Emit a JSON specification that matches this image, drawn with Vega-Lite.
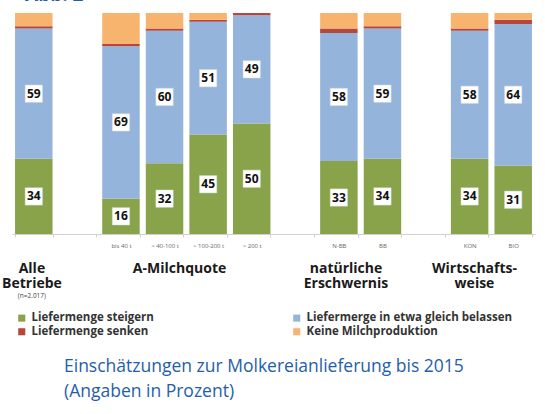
{
  "$schema": "https://vega.github.io/schema/vega-lite/v6.json",
  "width": 523,
  "height": 221,
  "autosize": {"type": "none"},
  "padding": {"left": 12, "top": 13, "right": 10, "bottom": 180},
  "background": "white",
  "config": {"view": {"stroke": null}, "font": "Open Sans"},
  "datasets": {
    "bars": [
      {"cat": "Alle", "series": "Liefermenge steigern", "o": 1, "value": 34},
      {"cat": "Alle", "series": "Liefermerge in etwa gleich belassen", "o": 2, "value": 59},
      {"cat": "Alle", "series": "Liefermenge senken", "o": 3, "value": 1},
      {"cat": "Alle", "series": "Keine Milchproduktion", "o": 4, "value": 6},
      {"cat": "bis 40 t", "series": "Liefermenge steigern", "o": 1, "value": 16},
      {"cat": "bis 40 t", "series": "Liefermerge in etwa gleich belassen", "o": 2, "value": 69},
      {"cat": "bis 40 t", "series": "Liefermenge senken", "o": 3, "value": 1},
      {"cat": "bis 40 t", "series": "Keine Milchproduktion", "o": 4, "value": 14},
      {"cat": "> 40-100 t", "series": "Liefermenge steigern", "o": 1, "value": 32},
      {"cat": "> 40-100 t", "series": "Liefermerge in etwa gleich belassen", "o": 2, "value": 60},
      {"cat": "> 40-100 t", "series": "Liefermenge senken", "o": 3, "value": 1},
      {"cat": "> 40-100 t", "series": "Keine Milchproduktion", "o": 4, "value": 7},
      {"cat": "> 100-200 t", "series": "Liefermenge steigern", "o": 1, "value": 45},
      {"cat": "> 100-200 t", "series": "Liefermerge in etwa gleich belassen", "o": 2, "value": 51},
      {"cat": "> 100-200 t", "series": "Liefermenge senken", "o": 3, "value": 1},
      {"cat": "> 100-200 t", "series": "Keine Milchproduktion", "o": 4, "value": 3},
      {"cat": "> 200 t", "series": "Liefermenge steigern", "o": 1, "value": 50},
      {"cat": "> 200 t", "series": "Liefermerge in etwa gleich belassen", "o": 2, "value": 49},
      {"cat": "> 200 t", "series": "Liefermenge senken", "o": 3, "value": 1},
      {"cat": "> 200 t", "series": "Keine Milchproduktion", "o": 4, "value": 0},
      {"cat": "N-BB", "series": "Liefermenge steigern", "o": 1, "value": 33},
      {"cat": "N-BB", "series": "Liefermerge in etwa gleich belassen", "o": 2, "value": 58},
      {"cat": "N-BB", "series": "Liefermenge senken", "o": 3, "value": 2},
      {"cat": "N-BB", "series": "Keine Milchproduktion", "o": 4, "value": 7},
      {"cat": "BB", "series": "Liefermenge steigern", "o": 1, "value": 34},
      {"cat": "BB", "series": "Liefermerge in etwa gleich belassen", "o": 2, "value": 59},
      {"cat": "BB", "series": "Liefermenge senken", "o": 3, "value": 1},
      {"cat": "BB", "series": "Keine Milchproduktion", "o": 4, "value": 6},
      {"cat": "KON", "series": "Liefermenge steigern", "o": 1, "value": 34},
      {"cat": "KON", "series": "Liefermerge in etwa gleich belassen", "o": 2, "value": 58},
      {"cat": "KON", "series": "Liefermenge senken", "o": 3, "value": 1},
      {"cat": "KON", "series": "Keine Milchproduktion", "o": 4, "value": 7},
      {"cat": "BIO", "series": "Liefermenge steigern", "o": 1, "value": 31},
      {"cat": "BIO", "series": "Liefermerge in etwa gleich belassen", "o": 2, "value": 64},
      {"cat": "BIO", "series": "Liefermenge senken", "o": 3, "value": 2},
      {"cat": "BIO", "series": "Keine Milchproduktion", "o": 4, "value": 3}
    ],
    "groups": [
      {"g": "alle", "cat": "Alle", "label": "Alle\nBetriebe"},
      {"g": "n", "cat": "Alle", "label": "(n=2.017)"},
      {"g": "milch", "cat": "> 40-100 t", "label": "A-Milchquote"},
      {"g": "natur", "cat": "N-BB", "label": "natürliche\nErschwernis"},
      {"g": "wirt", "cat": "KON", "label": "Wirtschafts-\nweise"},
      {"g": "abb", "cat": "Alle", "label": "Abb. 2"}
    ]
  },
  "title": {
    "text": ["Einschätzungen zur Molkereianlieferung bis 2015", "(Angaben in Prozent)"],
    "orient": "bottom",
    "anchor": "start",
    "frame": "group",
    "dx": 52,
    "offset": 20,
    "fontSize": 17.5,
    "font": "Open Sans",
    "fontWeight": "normal",
    "color": "#1f5ea8",
    "lineHeight": 25
  },
  "layer": [
    {
      "data": {"name": "bars"},
      "transform": [
        {"stack": "value", "groupby": ["cat"], "sort": [{"field": "o", "order": "ascending"}], "as": ["v0", "v1"]}
      ],
      "mark": {"type": "bar"},
      "encoding": {
        "x": {
          "field": "cat",
          "type": "nominal",
          "sort": null,
          "scale": {
            "domain": ["Alle", " ", "bis 40 t", "> 40-100 t", "> 100-200 t", "> 200 t", "  ", "N-BB", "BB", "   ", "KON", "BIO"],
            "paddingInner": 0.14,
            "paddingOuter": 0.07
          },
          "axis": {
            "title": null,
            "labelExpr": "datum.value == 'Alle' ? '' : datum.value",
            "labelFontSize": 6,
            "labelColor": "#666666",
            "labelAngle": 0,
            "labelPadding": 5,
            "tickBand": "extent",
            "tickSize": 3,
            "tickColor": "#d0d0d0",
            "domainColor": "#d0d0d0"
          }
        },
        "y": {"field": "v0", "type": "quantitative", "scale": {"domain": [0, 100], "nice": false}, "axis": null},
        "y2": {"field": "v1"},
        "color": {
          "field": "series",
          "type": "nominal",
          "scale": {
            "domain": ["Liefermenge steigern", "Liefermerge in etwa gleich belassen", "Liefermenge senken", "Keine Milchproduktion"],
            "range": ["#88a34a", "#94b4dc", "#b5473f", "#f7b46f"]
          },
          "legend": {
            "orient": "none",
            "direction": "horizontal",
            "legendX": 4,
            "legendY": 299,
            "columns": 2,
            "title": null,
            "symbolType": "square",
            "symbolSize": 50,
            "symbolStrokeWidth": 0,
            "labelFont": "Open Sans",
            "labelFontWeight": "bold",
            "labelFontSize": 11.5,
            "labelColor": "#333333",
            "labelLimit": 300,
            "columnPadding": 137,
            "rowPadding": 1,
            "gridAlign": "each"
          }
        }
      }
    },
    {
      "data": {"name": "bars"},
      "transform": [
        {"stack": "value", "groupby": ["cat"], "sort": [{"field": "o", "order": "ascending"}], "as": ["v0", "v1"]},
        {"calculate": "(datum.v0 + datum.v1) / 2", "as": "mid"},
        {"filter": "datum.o <= 2"}
      ],
      "encoding": {
        "x": {"field": "cat", "type": "nominal"},
        "y": {"field": "mid", "type": "quantitative"}
      },
      "layer": [
        {"mark": {"type": "square", "size": 300, "filled": true, "color": "white", "opacity": 1, "stroke": "#d8d8d8", "strokeWidth": 0.5}},
        {"mark": {"type": "text", "fontSize": 12, "fontWeight": "bold", "font": "Open Sans", "color": "#111111", "baseline": "middle"}, "encoding": {"text": {"field": "value", "type": "quantitative"}}}
      ]
    },
    {
      "data": {"name": "groups"},
      "transform": [{"filter": "datum.g == 'alle'"}],
      "mark": {"type": "text", "fontSize": 14, "fontWeight": "bold", "font": "Open Sans", "color": "#1a1a1a", "baseline": "alphabetic", "lineBreak": "\n", "lineHeight": 14.5, "dy": 39},
      "encoding": {
        "x": {"field": "cat", "type": "nominal", "bandPosition": 0.45},
        "y": {"datum": 0, "type": "quantitative"},
        "text": {"field": "label"}
      }
    },
    {
      "data": {"name": "groups"},
      "transform": [{"filter": "datum.g == 'n'"}],
      "mark": {"type": "text", "fontSize": 6.5, "font": "Open Sans", "color": "#444444", "baseline": "alphabetic", "dy": 64},
      "encoding": {
        "x": {"field": "cat", "type": "nominal", "bandPosition": 0.45},
        "y": {"datum": 0, "type": "quantitative"},
        "text": {"field": "label"}
      }
    },
    {
      "data": {"name": "groups"},
      "transform": [{"filter": "datum.g == 'milch'"}],
      "mark": {"type": "text", "fontSize": 14, "fontWeight": "bold", "font": "Open Sans", "color": "#1a1a1a", "baseline": "alphabetic", "lineBreak": "\n", "lineHeight": 14.5, "dy": 39},
      "encoding": {
        "x": {"field": "cat", "type": "nominal", "bandPosition": 0.9},
        "y": {"datum": 0, "type": "quantitative"},
        "text": {"field": "label"}
      }
    },
    {
      "data": {"name": "groups"},
      "transform": [{"filter": "datum.g == 'natur'"}],
      "mark": {"type": "text", "fontSize": 14, "fontWeight": "bold", "font": "Open Sans", "color": "#1a1a1a", "baseline": "alphabetic", "lineBreak": "\n", "lineHeight": 14.5, "dy": 39},
      "encoding": {
        "x": {"field": "cat", "type": "nominal", "bandPosition": 0.69},
        "y": {"datum": 0, "type": "quantitative"},
        "text": {"field": "label"}
      }
    },
    {
      "data": {"name": "groups"},
      "transform": [{"filter": "datum.g == 'wirt'"}],
      "mark": {"type": "text", "fontSize": 14, "fontWeight": "bold", "font": "Open Sans", "color": "#1a1a1a", "baseline": "alphabetic", "lineBreak": "\n", "lineHeight": 14.5, "dy": 39},
      "encoding": {
        "x": {"field": "cat", "type": "nominal", "bandPosition": 0.63},
        "y": {"datum": 0, "type": "quantitative"},
        "text": {"field": "label"}
      }
    },
    {
      "data": {"name": "groups"},
      "transform": [{"filter": "datum.g == 'abb'"}],
      "mark": {"type": "text", "fontSize": 19, "fontWeight": "bold", "font": "Open Sans", "color": "#1f5ea8", "baseline": "alphabetic", "align": "left", "dx": 10, "dy": -12},
      "encoding": {
        "x": {"field": "cat", "type": "nominal", "bandPosition": 0},
        "y": {"datum": 100, "type": "quantitative"},
        "text": {"field": "label"}
      }
    }
  ]
}
